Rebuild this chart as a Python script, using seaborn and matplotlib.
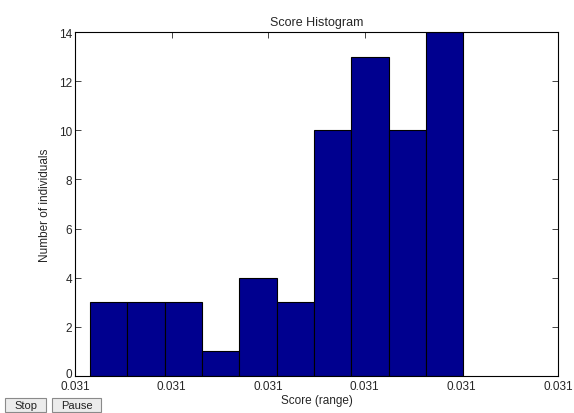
import matplotlib
matplotlib.use("Agg")
import matplotlib.pyplot as plt
import matplotlib.patches as mpatches
import matplotlib.transforms as mtransforms
import seaborn as sns
import pandas as pd

counts = [3, 3, 3, 1, 4, 3, 10, 13, 10, 14]
bin_start = 0.155
bin_width = 0.3865
xtick_pos = [0, 1, 2, 3, 4, 5]
xtick_labels = ["0.031"] * 6
yticks = [0, 2, 4, 6, 8, 10, 12, 14]
buttons = ["Stop", "Pause"]

edges = [bin_start + bin_width * i for i in range(len(counts) + 1)]
centers = [(edges[i] + edges[i + 1]) / 2 for i in range(len(counts))]
df = pd.DataFrame({"score": centers, "n": counts})

sns.set_style("white")
plt.rcParams['font.family'] = ['Liberation Sans', 'DejaVu Sans']

W, H = 574, 414
fig = plt.figure(figsize=(W / 100, H / 100), dpi=100)
ax = fig.add_axes([75/W, 1 - 377/H, 483/W, 344/H])
sns.histplot(data=df, x="score", weights="n", bins=edges, ax=ax,
             color=(0, 0, 0.5625), edgecolor="black", linewidth=0.8, alpha=1)

ax.set_xlim(0, 5)
ax.set_ylim(0, 14)
ax.set_xticks(xtick_pos)
ax.set_xticklabels(xtick_labels, fontsize=8.5)
ax.set_yticks(yticks)
ax.set_yticklabels([str(v) for v in yticks], fontsize=8.5)
ax.tick_params(direction="in", length=4, width=0.6, top=True, right=True,
               bottom=True, left=True, pad=2)
ax.tick_params(axis="x", pad=3)
for s in ax.spines.values():
    s.set_visible(True)
    s.set_color("black")
    s.set_linewidth(0.8)
ax.set_xlabel("Score (range)", fontsize=8.5, labelpad=1)
ax.set_ylabel("Number of individuals", fontsize=8.5, labelpad=6)
ax.set_title("Score Histogram", fontsize=9, pad=5)

# nudge the "0" y tick label up slightly, as in the reference
lab0 = ax.get_yticklabels()[0]
lab0.set_transform(lab0.get_transform() +
                   mtransforms.ScaledTranslation(0, 3 / 100, fig.dpi_scale_trans))

# GUI buttons
boxes = [(5, 46), (52, 101)]
for label, (x0, x1) in zip(buttons, boxes):
    y0, y1 = 399, 413
    rect = mpatches.Rectangle((x0 / W, 1 - y1 / H), (x1 - x0) / W, (y1 - y0) / H,
                              transform=fig.transFigure, facecolor="#ececec",
                              edgecolor="#8a8a8a", linewidth=0.8)
    fig.patches.append(rect)
    fig.text((x0 + x1) / 2 / W, 1 - (y0 + y1) / 2 / H, label, fontsize=8,
             color="#222222", ha="center", va="center")

fig.savefig("out.png", dpi=100)
